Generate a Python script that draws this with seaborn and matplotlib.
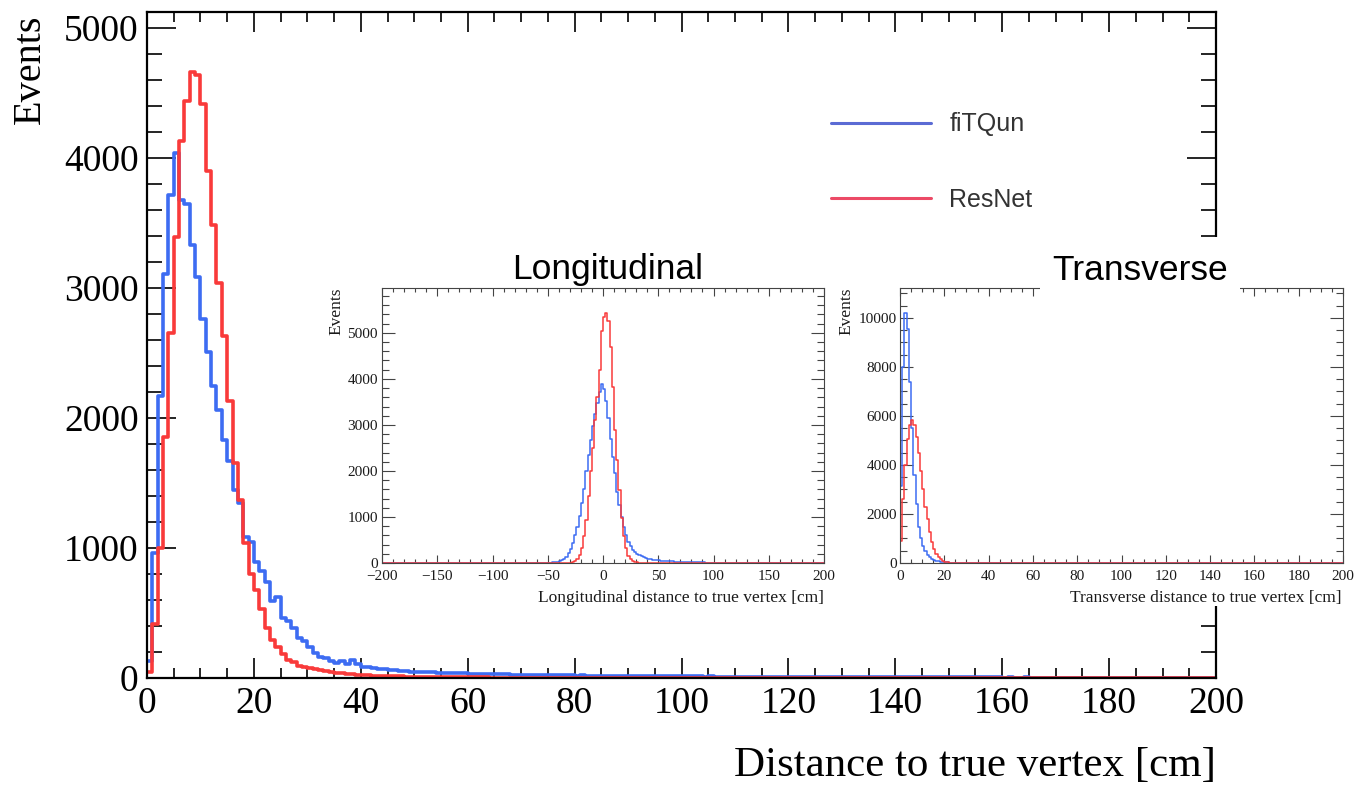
#!/usr/bin/env python3
"""Vertex resolution: fiTQun vs ResNet, with longitudinal / transverse insets."""

import numpy as np
import pandas as pd
import matplotlib
matplotlib.use("Agg")
import matplotlib.pyplot as plt
from matplotlib.lines import Line2D
from matplotlib.patches import Rectangle
from matplotlib.ticker import MultipleLocator
import seaborn as sns

W, H, DPI = 1355, 786, 100

# ---- data (events per bin) ----
# main plot: 1 cm bins from 0 to 200 cm
MAIN_START, MAIN_WIDTH = 0, 1
main_fitqun = [
    130, 960, 2170, 3110, 3720, 4040, 3680, 3650, 3330, 3085,
    2760, 2510, 2250, 2060, 1830, 1670, 1450, 1350, 1085, 1050,
    890, 820, 735, 595, 620, 465, 440, 385, 310, 285,
    235, 195, 165, 155, 130, 118, 130, 105, 136, 105,
    88, 82, 76, 71, 66, 62, 59, 56, 53, 50,
    48, 47, 45, 43, 42, 40, 39, 37, 36, 35,
    34, 33, 31, 30, 29, 29, 28, 27, 26, 26,
    25, 24, 24, 23, 22, 22, 21, 21, 20, 20,
    19, 20, 18, 18, 17, 18, 17, 16, 16, 16,
    15, 15, 16, 14, 14, 14, 13, 14, 13, 13,
    12, 13, 12, 12, 11, 12, 11, 11, 10, 11,
    10, 10, 10, 9, 10, 9, 9, 9, 9, 8,
    9, 8, 8, 8, 8, 7, 8, 7, 7, 7,
    7, 7, 6, 7, 6, 6, 6, 6, 6, 5,
    6, 5, 5, 5, 5, 5, 5, 5, 4, 5,
    4, 4, 5, 4, 4, 4, 4, 4, 4, 4,
    3, 4, 3, 3, 4, 3, 3, 3, 3, 3,
    3, 3, 3, 2, 3, 3, 2, 3, 2, 2,
    2, 2, 3, 2, 2, 2, 2, 2, 2, 2,
    2, 2, 2, 1, 2, 2, 1, 2, 1, 1,
]
main_resnet = [
    47, 415, 1000, 1858, 2654, 3395, 4135, 4440, 4667, 4641,
    4420, 3905, 3483, 3038, 2630, 2130, 1652, 1372, 1040, 800,
    680, 530, 387, 290, 240, 182, 140, 125, 95, 88,
    78, 68, 60, 54, 48, 42, 37, 33, 29, 26,
    23, 21, 19, 17, 15, 14, 13, 12, 11, 10,
    9, 9, 8, 7, 7, 6, 6, 5, 5, 5,
    4, 4, 4, 4, 3, 3, 3, 3, 3, 2,
    2, 2, 2, 2, 2, 2, 2, 1, 1, 1,
    1, 1, 1, 1, 1, 1, 1, 1, 1, 1,
]

# longitudinal inset: 2 cm bins, listed from -50 cm (rest of -200..200 empty)
LONG_START, LONG_WIDTH = -50, 2
long_fitqun = [
    5, 8, 12, 18, 28, 42, 65, 95, 140, 210,
    310, 430, 600, 790, 1020, 1300, 1610, 1990, 2350, 2670,
    2970, 3230, 3470, 3720, 3890, 3770, 3520, 3150, 2700, 2300,
    1950, 1550, 1250, 1000, 780, 600, 460, 360, 290, 240,
    200, 170, 145, 125, 110, 95, 85, 76, 68, 61,
    55, 50, 46, 42, 39, 36, 33, 30, 28, 26,
    24, 22, 20, 19, 18, 16, 15, 14, 13, 12,
    11, 10, 9, 9, 8, 7, 7, 6, 6, 5,
    5, 4, 4, 4, 3, 3, 3, 2, 2, 2,
    2, 2, 1, 1, 1,
]
long_resnet = [
    0, 0, 0, 0, 1, 1, 2, 2, 3, 5,
    10, 20, 40, 90, 180, 330, 580, 940, 1450, 1990,
    2500, 3100, 3600, 4200, 5050, 5350, 5440, 5250, 4700, 3830,
    2900, 2240, 1590, 980, 580, 330, 160, 80, 45, 25,
    15, 10, 8, 6, 5, 4, 3, 3, 2, 2,
    2, 1, 1, 1, 1,
]

# transverse inset: 1 cm bins from 0 cm
TRANS_START, TRANS_WIDTH = 0, 1
trans_fitqun = [
    3130, 8000, 10220, 9530, 7400, 5500, 3600, 2400, 1480, 1020,
    690, 480, 340, 250, 175, 130, 95, 70, 52, 40,
    30, 23, 17, 13, 10, 8, 6, 5, 4, 3,
    2, 2, 1, 1, 1,
]
trans_resnet = [
    890, 2620, 3990, 5050, 5650, 5820, 5640, 5150, 4500, 3750,
    3000, 2300, 1800, 1250, 850, 580, 380, 240, 150, 90,
    55, 35, 20, 12, 8, 5, 3, 2, 1, 1,
]

LABELS = ["fiTQun", "ResNet"]
BLUE, RED = "#3d6cf2", "#f93a3a"
LEG_BLUE, LEG_RED = "#5b6bd4", "#ec4a66"

sns.set_theme(style="ticks")
plt.rcParams['font.family'] = ['Liberation Serif', 'DejaVu Serif']
plt.rcParams['axes.unicode_minus'] = True
plt.rcParams['text.color'] = 'black'
plt.rcParams['xtick.labelcolor'] = 'black'
plt.rcParams['ytick.labelcolor'] = 'black'


def px(x0, y0, x1, y1):
    """pixel box (top-left origin) -> figure rect"""
    return [x0 / W, 1 - y1 / H, (x1 - x0) / W, (y1 - y0) / H]


def draw_hist(ax, start, width, counts, brange, color, lw):
    df = pd.DataFrame({
        'x': start + width * (np.arange(len(counts)) + 0.5),
        'n': np.asarray(counts, dtype=float),
    })
    sns.histplot(data=df, x='x', weights='n', binwidth=width, binrange=brange,
                 element="step", fill=False, color=color, linewidth=lw, ax=ax)


def root_style(ax, xmaj, xmin, ymaj, ymin, xlen, ylen, lsize, lw, tw, color, lcolor):
    ax.xaxis.set_major_locator(MultipleLocator(xmaj))
    ax.xaxis.set_minor_locator(MultipleLocator(xmin))
    ax.yaxis.set_major_locator(MultipleLocator(ymaj))
    ax.yaxis.set_minor_locator(MultipleLocator(ymin))
    ax.tick_params(axis='x', which='major', direction='in', top=True, bottom=True,
                   length=xlen, width=tw, color=color, labelsize=lsize, labelcolor=lcolor)
    ax.tick_params(axis='x', which='minor', direction='in', top=True, bottom=True,
                   length=xlen / 2, width=tw, color=color)
    ax.tick_params(axis='y', which='major', direction='in', left=True, right=True,
                   length=ylen, width=tw, color=color, labelsize=lsize, labelcolor=lcolor)
    ax.tick_params(axis='y', which='minor', direction='in', left=True, right=True,
                   length=ylen / 2, width=tw, color=color)
    for s in ax.spines.values():
        s.set_visible(True)
        s.set_linewidth(lw)
        s.set_color(color)
    ax.set_xlabel('')
    ax.set_ylabel('')
    ax.set_facecolor('white')


fig = plt.figure(figsize=(W / DPI, H / DPI), dpi=DPI)

# ---- main plot ----
ax = fig.add_axes(px(147, 12, 1216, 678))
draw_hist(ax, MAIN_START, MAIN_WIDTH, main_fitqun, (0, 200), BLUE, 2.6)
draw_hist(ax, MAIN_START, MAIN_WIDTH, main_resnet, (0, 200), RED, 2.6)
ax.set_xlim(0, 200)
ax.set_ylim(0, 5125)
root_style(ax, 20, 5, 1000, 200, 14.5, 21, 27, 1.6, 1.2, 'black', 'black')
ax.tick_params(axis='x', which='major', pad=6)
ax.tick_params(axis='y', which='major', pad=6)
ax.set_zorder(0)

fig.text(30 / W, 1 - 14 / H, "Events", rotation=90, ha='center', va='top', fontsize=29)
fig.text(1216 / W, 1 - 766 / H, "Distance to true vertex [cm]", ha='right', va='center',
         fontsize=31)

# legend
handles = [Line2D([], [], color=LEG_BLUE, lw=2.2), Line2D([], [], color=LEG_RED, lw=2.2)]
leg = ax.legend(handles, LABELS, loc='upper left', bbox_to_anchor=(818 / W, 1 - 100 / H),
                bbox_transform=fig.transFigure, frameon=False, handlelength=4.0,
                handletextpad=0.75, labelspacing=2.05, borderpad=0,
                prop={'family': 'Liberation Sans', 'size': 18})
for t in leg.get_texts():
    t.set_color('#333333')

# white backdrop of the pasted insets (hides the main frame behind them)
fig.add_artist(Rectangle((1000 / W, 1 - 606 / H), 355 / W, (606 - 237) / H,
                         transform=fig.transFigure, facecolor='white',
                         edgecolor='none', zorder=1))

# ---- longitudinal inset ----
ax_l = fig.add_axes(px(382, 288, 824, 563))
ax_l.set_zorder(2)
draw_hist(ax_l, LONG_START, LONG_WIDTH, long_fitqun, (-200, 200), BLUE, 1.1)
draw_hist(ax_l, LONG_START, LONG_WIDTH, long_resnet, (-200, 200), RED, 1.1)
ax_l.set_xlim(-200, 200)
ax_l.set_ylim(0, 5975)
root_style(ax_l, 50, 10, 1000, 200, 5.8, 9.4, 11, 0.8, 0.8, '#444444', '#1a1a1a')
ax_l.tick_params(axis='x', which='major', pad=5)
ax_l.tick_params(axis='y', which='major', pad=3)

# ---- transverse inset ----
ax_t = fig.add_axes(px(900, 288, 1343, 563))
ax_t.set_zorder(2)
draw_hist(ax_t, TRANS_START, TRANS_WIDTH, trans_fitqun, (0, 200), BLUE, 1.1)
draw_hist(ax_t, TRANS_START, TRANS_WIDTH, trans_resnet, (0, 200), RED, 1.1)
ax_t.set_xlim(0, 200)
ax_t.set_ylim(0, 11220)
root_style(ax_t, 20, 5, 2000, 500, 5.8, 9.4, 11, 0.8, 0.8, '#444444', '#1a1a1a')
ax_t.tick_params(axis='x', which='major', pad=5)
ax_t.tick_params(axis='y', which='major', pad=2)

# inset labels and titles
for xl, xr, name in [(336, 824, "Longitudinal"), (846, 1342, "Transverse")]:
    fig.text(xl / W, 1 - 288 / H, "Events", rotation=90, ha='center', va='top',
             fontsize=12.5, color='#1a1a1a', zorder=4)
    fig.text(xr / W, 1 - 598 / H, f"{name} distance to true vertex [cm]", ha='right',
             va='center', fontsize=12.5, color='#1a1a1a', zorder=4)

fig.text(608 / W, 1 - 270 / H, "Longitudinal", ha='center', va='center', fontsize=25.5,
         family='Liberation Sans', zorder=4)
fig.text(1140 / W, 1 - 270 / H, "Transverse", ha='center', va='center', fontsize=25.5,
         family='Liberation Sans', zorder=4,
         bbox=dict(facecolor='white', edgecolor='none', pad=9))

fig.savefig("out.png", dpi=DPI)
